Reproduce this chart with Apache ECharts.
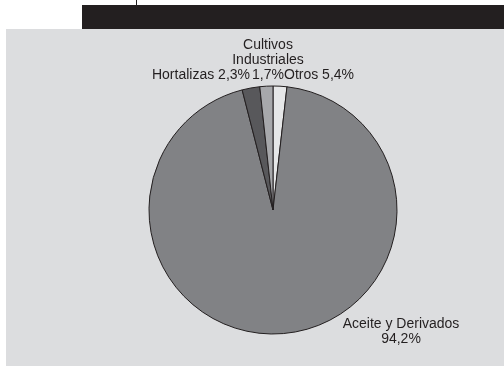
<!DOCTYPE html>
<html><head><meta charset="utf-8">
<script src="https://cdn.jsdelivr.net/npm/echarts@6/dist/echarts.min.js"></script>
<style>html,body{margin:0;padding:0;background:#fff}#c{width:504px;height:366px}</style>
</head><body><div id="c"></div>
<script>
// Slice order clockwise from 12 o'clock
const categories = ['Otros', 'Aceite y Derivados', 'Hortalizas', 'Cultivos Industriales'];
// slice sizes as drawn in the picture (percent)
const values = [1.8, 94.2, 2.3, 1.7];
// label texts as printed in the picture
const labelTexts = ['Otros 5,4%', 'Aceite y Derivados\n94,2%', 'Hortalizas 2,3%', 'Cultivos\nIndustriales\n1,7%'];
const colors = ['#e6e7e8', '#818285', '#58585b', '#a7a8ab'];

const labelPos = [
  {x: 284, y: 75, align: 'left'},
  {x: 401, y: 332, align: 'center'},
  {x: 250, y: 75, align: 'right'},
  {x: 268, y: 60, align: 'center'}
];

const chart = echarts.init(document.getElementById('c'), null, {renderer: 'canvas'});
chart.setOption({
  animation: false,
  backgroundColor: '#ffffff',
  graphic: [
    {type: 'rect', z: 0, shape: {x: 6, y: 29, width: 498, height: 337}, style: {fill: '#dcdddf'}},
    {type: 'rect', z: 0, shape: {x: 82, y: 5, width: 422, height: 24}, style: {fill: '#231f20'}},
    {type: 'line', z: 0, shape: {x1: 136.5, y1: 0, x2: 136.5, y2: 5}, style: {stroke: '#231f20', lineWidth: 1}}
  ],
  series: [{
    type: 'pie',
    center: [273, 210],
    radius: 124,
    startAngle: 90,
    clockwise: true,
    data: categories.map((c, i) => ({name: c, value: values[i], itemStyle: {color: colors[i]}})),
    itemStyle: {borderColor: '#231f20', borderWidth: 1},
    label: {
      show: true,
      position: 'outside',
      formatter: p => labelTexts[p.dataIndex],
      fontFamily: 'Liberation Sans, Arial, sans-serif',
      fontSize: 14,
      lineHeight: 15,
      color: '#231f20'
    },
    labelLine: {show: false},
    labelLayout: p => Object.assign({verticalAlign: 'middle', hideOverlap: false}, labelPos[p.dataIndex]),
    emphasis: {disabled: true}
  }]
});
</script></body></html>
